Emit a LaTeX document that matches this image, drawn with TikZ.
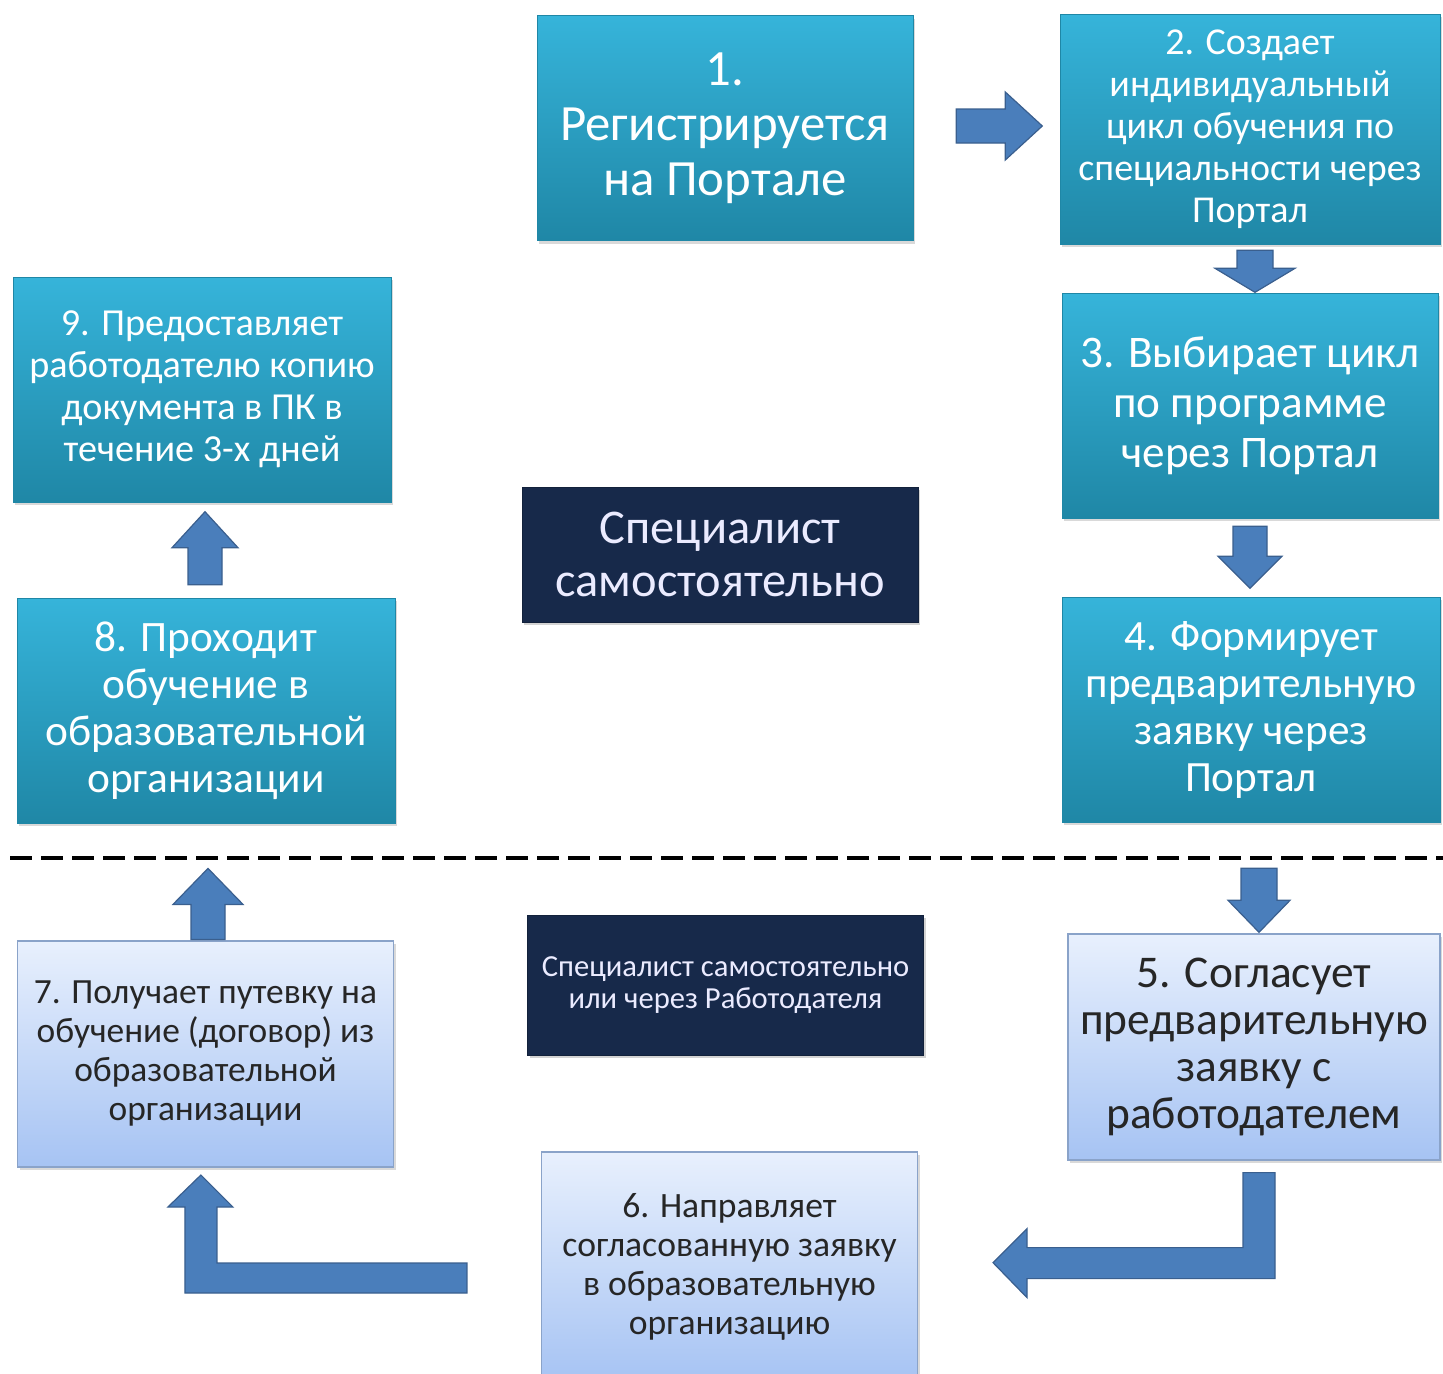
\documentclass[tikz,border=0pt]{standalone}
\usepackage{fontspec}
\setmainfont{Carlito}
\usetikzlibrary{calc,shadows}

\definecolor{tealtop}{HTML}{36B4DA}
\definecolor{tealbot}{HTML}{1F87A6}
\definecolor{navyfill}{HTML}{17294A}
\definecolor{paletop}{HTML}{E8F0FD}
\definecolor{palebot}{HTML}{A6C3F3}
\definecolor{paleedge}{HTML}{8AA3C9}
\definecolor{arrowfill}{HTML}{4A7EBB}
\definecolor{arrowedge}{HTML}{3A5F8E}

\begin{document}
\begin{tikzpicture}[
  x=0.5pt, y=-0.5pt,
  tealbox/.style={rectangle, top color=tealtop, bottom color=tealbot, draw=tealbot, line width=0.3pt,
    text=white, align=center, inner sep=2pt, minimum width=188pt, minimum height=112.5pt,
    drop shadow={opacity=0.3, shadow xshift=1pt, shadow yshift=-1.5pt}},
  palebox/.style={rectangle, top color=paletop, bottom color=palebot, draw=paleedge, line width=0.6pt,
    text=black!85, align=center, inner sep=2pt, minimum width=188pt, minimum height=113pt,
    drop shadow={opacity=0.3, shadow xshift=1pt, shadow yshift=-1.5pt}},
  darkbox/.style={rectangle, fill=navyfill, draw=navyfill!80!black, line width=0.4pt,
    text=white!92!blue, align=center, inner sep=2pt, minimum width=198pt,
    drop shadow={opacity=0.35, shadow xshift=1pt, shadow yshift=-1.5pt}},
  blockarrow/.style={fill=arrowfill, draw=arrowedge, line width=0.6pt, line join=miter},
  sepline/.style={black, line width=2.3pt, dash pattern=on 11pt off 4.5pt}
]
\useasboundingbox (0,0) rectangle (1443,1373);

% top half: the specialist on his own
\node[tealbox, font={\fontsize{25.4}{27.5}\selectfont}] (b1) at (725,128) {1.\\Регистрируется\\на Портале};
\node[tealbox, minimum width=190pt, minimum height=115pt, font={\fontsize{19}{21}\selectfont}] (b2) at (1250,129) {2. Создает\\индивидуальный\\цикл обучения по\\специальности через\\Портал};
\node[tealbox, font={\fontsize{22.6}{25}\selectfont}] (b3) at (1250,405.5) {3. Выбирает цикл\\по программе\\через Портал};
\node[tealbox, minimum width=189pt, font={\fontsize{21.6}{23.5}\selectfont}] (b4) at (1251,709.5) {4. Формирует\\предварительную\\заявку через\\Портал};
\node[tealbox, minimum width=189pt, font={\fontsize{21.7}{23.5}\selectfont}] (b8) at (206,710.5) {8. Проходит\\обучение в\\образовательной\\организации};
\node[tealbox, minimum width=189pt, font={\fontsize{19.1}{21}\selectfont}] (b9) at (202,389.5) {9. Предоставляет\\работодателю копию\\документа в ПК в\\течение 3-х дней};
\node[darkbox, minimum height=67.5pt, font={\fontsize{24.2}{26.5}\selectfont}] (self) at (720,554.5) {Специалист\\самостоятельно};

% bottom half: with the employer
\node[palebox, minimum width=186pt, font={\fontsize{22.7}{23.5}\selectfont}] (b5) at (1254,1047) {5. Согласует\\предварительную\\заявку с\\работодателем};
\node[palebox, minimum height=115pt, font={\fontsize{17.8}{19.5}\selectfont}] (b6) at (729.5,1267) {6. Направляет\\согласованную заявку\\в образовательную\\организацию};
\node[palebox, font={\fontsize{17.7}{19.5}\selectfont}] (b7) at (205.5,1054) {7. Получает путевку на\\обучение (договор) из\\образовательной\\организации};
\node[darkbox, minimum height=70pt, font={\fontsize{15.3}{16}\selectfont}] (employer) at (725.5,985) {Специалист самостоятельно\\или через Работодателя};

\coordinate (sepL) at (10,858);
\coordinate (sepR) at (1443,858);
\draw[sepline] (sepL) -- (sepR);

% block arrows
\coordinate (a12) at ($(b1.east)+(43,-2)$);
\draw[blockarrow] (a12) ++(0,-17) -- ++(49,0) -- ++(0,-17) -- ++(37,34) -- ++(-37,34) -- ++(0,-17) -- ++(-49,0) -- cycle;
\coordinate (a23) at ($(b2.south)+(5,6)$);
\draw[blockarrow] (a23) ++(-18,0) -- ++(0,18) -- ++(-22,0) -- ++(40,24) -- ++(40,-24) -- ++(-22,0) -- ++(0,-18) -- cycle;
\coordinate (a34) at ($(b3.south)+(0,8)$);
\draw[blockarrow] (a34) ++(-17,0) -- ++(0,30) -- ++(-15,0) -- ++(32,32) -- ++(32,-32) -- ++(-15,0) -- ++(0,-30) -- cycle;
\coordinate (a45) at ($(b4.south)+(8,46)$);
\draw[blockarrow] (a45) ++(-18,0) -- ++(0,32) -- ++(-13,0) -- ++(31,32) -- ++(31,-32) -- ++(-13,0) -- ++(0,-32) -- cycle;
\coordinate (a56) at ($(b5.south)+(-11,12)$);
\draw[blockarrow] (a56) -- ++(32,0) -- ++(0,106) -- ++(-248,0) -- ++(0,19) -- ++(-34,-35) -- ++(34,-34) -- ++(0,19) -- ++(216,0) -- cycle;
\coordinate (a67) at ($(b6.west)+(-74,-4)$);
\draw[blockarrow] (a67) -- ++(0,30) -- ++(-282,0) -- ++(0,-86) -- ++(-17,0) -- ++(33,-32) -- ++(32,32) -- ++(-16,0) -- ++(0,56) -- cycle;
\coordinate (a78) at ($(b7.north)+(2.5,-1)$);
\draw[blockarrow] (a78) ++(-17,0) -- ++(0,-35) -- ++(-18,0) -- ++(35,-36) -- ++(35,36) -- ++(-18,0) -- ++(0,35) -- cycle;
\coordinate (a89) at ($(b8.north)+(-1,-13)$);
\draw[blockarrow] (a89) ++(-17,0) -- ++(0,-37) -- ++(-16,0) -- ++(33,-36) -- ++(33,36) -- ++(-16,0) -- ++(0,37) -- cycle;
\end{tikzpicture}
\end{document}
